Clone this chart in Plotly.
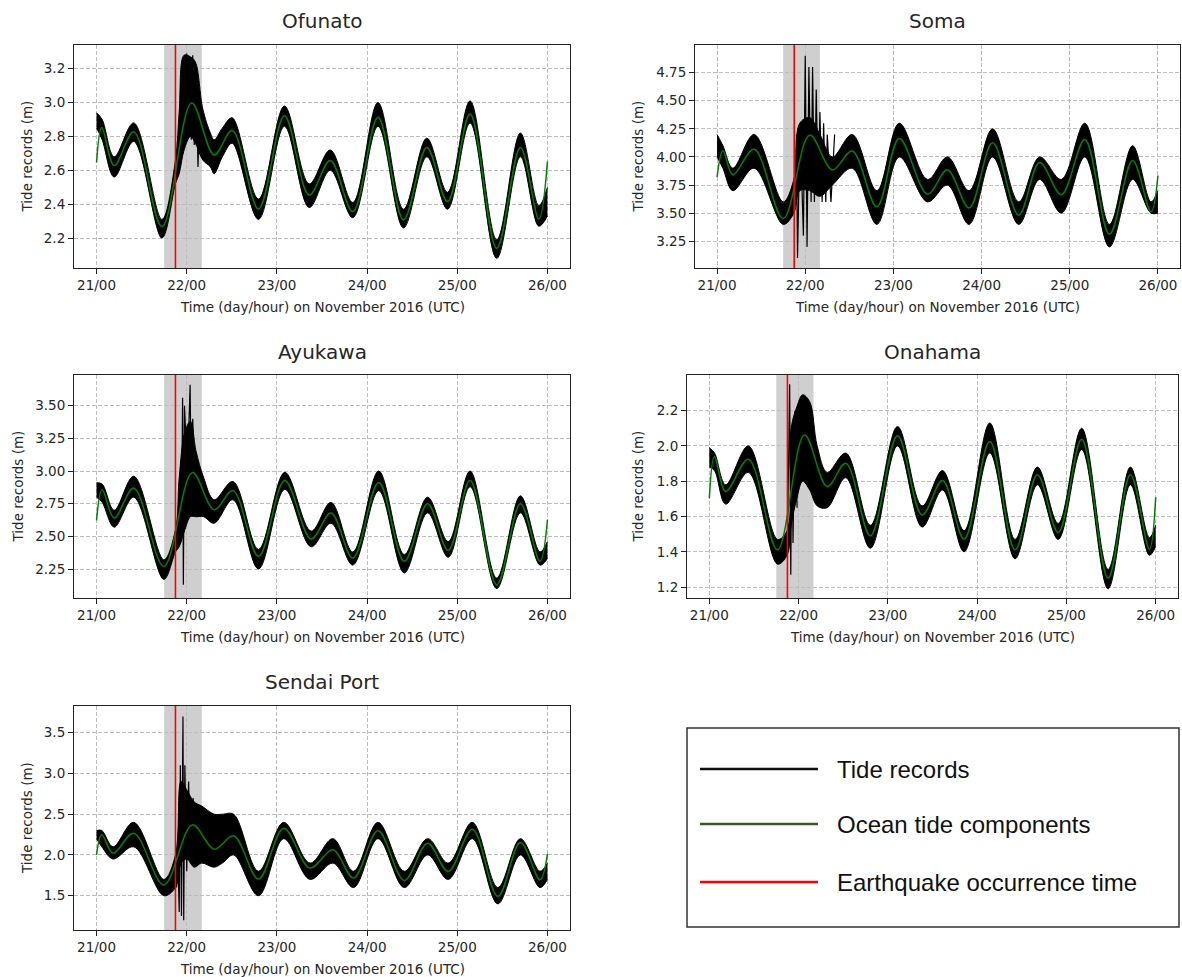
import plotly.graph_objects as go

# ---------------- data (hours since 21 Nov 2016 00:00 UTC) ----------------
stations = ["Ofunato", "Soma", "Ayukawa", "Onahama", "Sendai Port"]

quake_hour = 21.0
shade_start, shade_end = 18.0, 28.0

day_ticks = [0, 24, 48, 72, 96, 120]
day_labels = ["21/00", "22/00", "23/00", "24/00", "25/00", "26/00"]

# Ocean tide components (green) - extremes
ofunato_tide_t = [0, 1.4, 4.7, 9.9, 17.4, 25.3, 31.3, 36.1, 43.1, 50.0, 56.6, 62.2, 68.2, 74.9, 81.7, 87.9, 93.4, 99.4, 106.5, 112.8, 117.7, 120]
ofunato_tide_v = [2.646, 2.853, 2.628, 2.827, 2.267, 2.997, 2.691, 2.835, 2.372, 2.922, 2.454, 2.658, 2.356, 2.914, 2.307, 2.735, 2.415, 2.932, 2.139, 2.735, 2.312, 2.652]

soma_tide_t = [0, 1.6, 4.3, 10.1, 18.0, 25.2, 31.4, 36.8, 43.5, 49.6, 57.3, 62.7, 68.6, 75.0, 82.1, 87.8, 93.7, 100.1, 106.8, 113.1, 118.1, 120]
soma_tide_v = [3.82, 4.056, 3.841, 4.068, 3.453, 4.194, 3.885, 4.053, 3.556, 4.165, 3.67, 3.885, 3.547, 4.126, 3.482, 3.95, 3.665, 4.156, 3.312, 3.968, 3.512, 3.835]

ayukawa_tide_t = [0, 1.5, 4.7, 9.9, 17.9, 25.5, 31.3, 36.3, 43.1, 50.1, 57.1, 62.4, 68.2, 75.1, 81.9, 88.1, 93.6, 99.4, 106.5, 112.8, 118.0, 120]
ayukawa_tide_v = [2.622, 2.856, 2.64, 2.869, 2.27, 2.988, 2.703, 2.85, 2.347, 2.927, 2.479, 2.678, 2.334, 2.912, 2.309, 2.749, 2.393, 2.927, 2.13, 2.749, 2.309, 2.627]

onahama_tide_t = [0, 1.4, 4.4, 10.5, 18.3, 25.6, 31.7, 36.7, 43.3, 50.6, 57.2, 62.7, 68.5, 75.4, 82.2, 88.2, 93.8, 100.1, 107.2, 113.2, 118.3, 120]
onahama_tide_v = [1.704, 1.94, 1.742, 1.925, 1.411, 2.062, 1.77, 1.902, 1.491, 2.057, 1.609, 1.804, 1.472, 2.025, 1.411, 1.836, 1.509, 2.038, 1.251, 1.836, 1.415, 1.709]

sendai_tide_t = [0, 1.4, 4.4, 9.9, 17.9, 25.5, 31.3, 36.5, 43.1, 49.8, 56.8, 62.9, 68.4, 74.9, 81.9, 88.1, 93.6, 100.0, 106.8, 112.8, 118.0, 120]
sendai_tide_v = [2.002, 2.247, 2.022, 2.267, 1.635, 2.369, 2.071, 2.235, 1.704, 2.329, 1.839, 2.063, 1.716, 2.296, 1.688, 2.145, 1.798, 2.316, 1.492, 2.153, 1.696, 2.014]

# Tide records (black) - upper / lower envelope of the band
ofunato_rec_t = [0, 1.5, 4.7, 9.9, 17.4, 21.0, 22.0, 23.3, 25.0, 26.3, 28.3, 30.3, 31.3, 33.5, 36.1, 43.1, 50.0, 56.6, 62.2, 68.2, 74.9, 81.7, 87.9, 93.4, 99.4, 106.5, 112.8, 117.7, 120]
ofunato_rec_hi = [2.94, 2.90, 2.68, 2.88, 2.31, 2.66, 2.95, 3.28, 3.27, 3.24, 2.96, 2.82, 2.78, 2.85, 2.91, 2.43, 2.98, 2.52, 2.72, 2.41, 3.00, 2.37, 2.79, 2.47, 3.01, 2.19, 2.82, 2.39, 2.50]
ofunato_rec_lo = [2.85, 2.78, 2.56, 2.77, 2.20, 2.52, 2.58, 2.72, 2.80, 2.76, 2.66, 2.62, 2.58, 2.68, 2.76, 2.31, 2.86, 2.38, 2.60, 2.32, 2.86, 2.26, 2.68, 2.37, 2.88, 2.08, 2.68, 2.27, 2.33]
ofunato_spike_t = [21.2, 21.6, 22.0, 22.4, 22.8, 23.2, 23.6, 24.0, 24.4, 24.8, 25.2, 25.6, 26.0, 26.5, 27.0, 27.5]
ofunato_spike_v = [2.55, 2.80, 2.60, 3.05, 2.70, 3.26, 2.80, 3.29, 2.82, 3.22, 2.78, 3.28, 2.75, 3.15, 2.62, 3.02]

soma_rec_t = [0, 1.6, 4.3, 10.1, 18.0, 20.9, 22.5, 25.2, 28.0, 31.4, 36.8, 43.5, 49.6, 57.3, 62.7, 68.6, 75.0, 82.1, 87.8, 93.7, 100.1, 106.8, 113.1, 118.1, 120]
soma_rec_hi = [4.20, 4.10, 3.90, 4.20, 3.60, 3.80, 4.30, 4.35, 4.20, 4.00, 4.20, 3.70, 4.30, 3.80, 4.00, 3.70, 4.25, 3.60, 4.00, 3.80, 4.30, 3.40, 4.10, 3.60, 3.70]
soma_rec_lo = [4.00, 3.90, 3.70, 3.90, 3.40, 3.50, 3.70, 3.70, 3.65, 3.75, 3.90, 3.40, 4.00, 3.60, 3.75, 3.40, 4.00, 3.40, 3.80, 3.50, 4.00, 3.20, 3.80, 3.50, 3.50]
soma_spike_t = [21.3, 21.6, 21.9, 22.6, 23.5, 24.0, 24.5, 25.0, 25.6, 26.0, 26.5, 27.0, 27.5, 28.0, 28.6, 29.0, 29.6, 30.0, 31.0, 32.0]
soma_spike_v = [3.60, 4.20, 3.10, 4.30, 3.30, 4.90, 3.20, 4.80, 3.60, 4.80, 3.60, 4.60, 3.70, 4.40, 3.60, 4.30, 3.60, 4.20, 3.60, 4.20]

ayukawa_rec_t = [0, 1.5, 4.7, 9.9, 17.9, 21.0, 22.0, 23.5, 25.0, 26.5, 28.5, 31.3, 36.3, 43.1, 50.1, 57.1, 62.4, 68.2, 75.1, 81.9, 88.1, 93.6, 99.4, 106.5, 112.8, 118.0, 120]
ayukawa_rec_hi = [2.91, 2.90, 2.70, 2.96, 2.32, 2.55, 2.95, 3.30, 3.38, 3.15, 2.95, 2.78, 2.92, 2.40, 2.99, 2.54, 2.76, 2.38, 3.00, 2.36, 2.80, 2.46, 3.00, 2.18, 2.81, 2.38, 2.46]
ayukawa_rec_lo = [2.80, 2.76, 2.57, 2.80, 2.17, 2.38, 2.42, 2.55, 2.65, 2.65, 2.65, 2.60, 2.78, 2.25, 2.86, 2.42, 2.60, 2.28, 2.85, 2.22, 2.68, 2.34, 2.88, 2.10, 2.68, 2.28, 2.33]
ayukawa_spike_t = [21.5, 22.0, 22.6, 22.9, 23.1, 23.4, 24.2, 24.9, 25.2, 25.6, 26.2]
ayukawa_spike_v = [2.40, 2.80, 2.60, 3.56, 2.13, 3.50, 3.00, 3.66, 2.90, 3.40, 2.80]

onahama_rec_t = [0, 1.4, 4.4, 10.5, 18.3, 20.9, 22.0, 23.5, 25.1, 27.0, 29.0, 31.7, 36.7, 43.3, 50.6, 57.2, 62.7, 68.5, 75.4, 82.2, 88.2, 93.8, 100.1, 107.2, 113.2, 118.3, 120]
onahama_rec_hi = [1.99, 1.96, 1.78, 2.00, 1.47, 1.52, 2.10, 2.22, 2.29, 2.25, 2.00, 1.85, 1.96, 1.55, 2.11, 1.66, 1.86, 1.52, 2.13, 1.47, 1.88, 1.56, 2.10, 1.30, 1.88, 1.48, 1.55]
onahama_rec_lo = [1.88, 1.86, 1.67, 1.85, 1.33, 1.38, 1.55, 1.70, 1.80, 1.75, 1.66, 1.65, 1.82, 1.42, 2.00, 1.54, 1.75, 1.40, 1.96, 1.36, 1.78, 1.47, 1.98, 1.19, 1.78, 1.38, 1.43]
onahama_spike_t = [21.0, 21.6, 21.9, 22.2, 22.5, 23.0, 23.6]
onahama_spike_v = [1.45, 2.35, 1.27, 2.10, 1.45, 2.20, 1.65]

sendai_rec_t = [0, 1.4, 4.4, 9.9, 17.9, 21.0, 22.5, 24.0, 26.0, 28.0, 31.3, 33.5, 36.5, 43.1, 49.8, 56.8, 62.9, 68.4, 74.9, 81.9, 88.1, 93.6, 100.0, 106.8, 112.8, 118.0, 120]
sendai_rec_hi = [2.30, 2.30, 2.10, 2.40, 1.70, 2.00, 2.90, 2.80, 2.65, 2.60, 2.50, 2.50, 2.50, 1.80, 2.40, 1.90, 2.20, 1.80, 2.40, 1.80, 2.20, 1.90, 2.40, 1.60, 2.20, 1.80, 1.90]
sendai_rec_lo = [2.20, 2.10, 1.95, 2.10, 1.50, 1.60, 1.90, 1.95, 1.85, 1.90, 1.85, 1.90, 2.00, 1.50, 2.20, 1.70, 1.90, 1.60, 2.20, 1.60, 2.00, 1.70, 2.20, 1.40, 2.00, 1.60, 1.70]
sendai_spike_t = [21.3, 21.6, 22.0, 22.3, 22.6, 23.0, 23.2, 23.5, 24.0, 24.5, 25.0, 25.7, 26.3, 27.0, 27.5, 28.0]
sendai_spike_v = [1.60, 2.00, 1.30, 3.10, 1.25, 3.70, 1.20, 3.10, 1.80, 2.90, 1.90, 2.70, 1.90, 2.60, 2.00, 2.40]

tide_t = [ofunato_tide_t, soma_tide_t, ayukawa_tide_t, onahama_tide_t, sendai_tide_t]
tide_v = [ofunato_tide_v, soma_tide_v, ayukawa_tide_v, onahama_tide_v, sendai_tide_v]
rec_t = [ofunato_rec_t, soma_rec_t, ayukawa_rec_t, onahama_rec_t, sendai_rec_t]
rec_hi = [ofunato_rec_hi, soma_rec_hi, ayukawa_rec_hi, onahama_rec_hi, sendai_rec_hi]
rec_lo = [ofunato_rec_lo, soma_rec_lo, ayukawa_rec_lo, onahama_rec_lo, sendai_rec_lo]
spike_t = [ofunato_spike_t, soma_spike_t, ayukawa_spike_t, onahama_spike_t, sendai_spike_t]
spike_v = [ofunato_spike_v, soma_spike_v, ayukawa_spike_v, onahama_spike_v, sendai_spike_v]

ytick_vals = [
    [2.2, 2.4, 2.6, 2.8, 3.0, 3.2],
    [3.25, 3.5, 3.75, 4.0, 4.25, 4.5, 4.75],
    [2.25, 2.5, 2.75, 3.0, 3.25, 3.5],
    [1.2, 1.4, 1.6, 1.8, 2.0, 2.2],
    [1.5, 2.0, 2.5, 3.0, 3.5],
]
ytick_fmt = [".1f", ".2f", ".2f", ".1f", ".1f"]
y_ranges = [[2.023, 3.34], [3.012, 4.996], [2.028, 3.735], [1.138, 2.402], [1.079, 3.828]]

legend_labels = ["Tide records", "Ocean tide components", "Earthquake occurrence time"]

# ---------------- layout geometry (pixels) ----------------
W, H = 1182, 977
frames = [  # x0, x1, y0(top), y1(bottom)
    (74, 570, 45, 268),
    (695, 1180, 45, 268),
    (74, 570, 375, 598),
    (687, 1178, 375, 598),
    (74, 570, 706, 930),
]
title_y = [21, 21, 352, 352, 682]
ytitle_x = [27, 638, 17, 637, 27]


def fx(p):
    return p / W


def fy(p):
    return 1 - p / H


FONT = "DejaVu Sans"
TXT = "#262626"

fig = go.Figure()
annotations = []
shapes = []

for i, name in enumerate(stations):
    n = "" if i == 0 else str(i + 1)
    xa, ya = "x" + n, "y" + n
    x0, x1, y0, y1 = frames[i]

    # tide record band
    fig.add_trace(go.Scatter(x=rec_t[i], y=rec_lo[i], mode="lines", xaxis=xa, yaxis=ya,
                             line=dict(color="black", width=1, shape="spline", smoothing=1.0),
                             showlegend=False, hoverinfo="skip"))
    fig.add_trace(go.Scatter(x=rec_t[i], y=rec_hi[i], mode="lines", xaxis=xa, yaxis=ya,
                             fill="tonexty", fillcolor="black",
                             line=dict(color="black", width=1, shape="spline", smoothing=1.0),
                             showlegend=False, hoverinfo="skip"))
    fig.add_trace(go.Scatter(x=spike_t[i], y=spike_v[i], mode="lines", xaxis=xa, yaxis=ya,
                             line=dict(color="black", width=1.2),
                             showlegend=False, hoverinfo="skip"))
    # ocean tide component
    fig.add_trace(go.Scatter(x=tide_t[i], y=tide_v[i], mode="lines", xaxis=xa, yaxis=ya,
                             line=dict(color="#008000", width=1.5, shape="spline", smoothing=1.0),
                             showlegend=False, hoverinfo="skip"))

    axis_common = dict(showline=True, mirror=True, linecolor="#222222", linewidth=1.1,
                       ticks="outside", ticklen=5, tickwidth=1.1, tickcolor="#222222",
                       showgrid=True, gridcolor="#bdbdbd", griddash="4px,2px", gridwidth=1,
                       zeroline=False, tickfont=dict(family=FONT, size=13.5, color=TXT))
    fig.layout["xaxis" + n] = dict(axis_common, domain=[fx(x0), fx(x1)], anchor=ya,
                                   range=[-6, 126], tickvals=day_ticks, ticktext=day_labels)
    fig.layout["yaxis" + n] = dict(axis_common, domain=[fy(y1), fy(y0)], anchor=xa,
                                   range=y_ranges[i], tickvals=ytick_vals[i], tickformat=ytick_fmt[i])

    # shaded window and earthquake line
    shapes.append(dict(type="rect", xref=xa, yref=ya + " domain", x0=shade_start, x1=shade_end,
                       y0=0, y1=1, fillcolor="rgba(128,128,128,0.38)", line=dict(width=0), layer="below"))
    shapes.append(dict(type="line", xref=xa, yref=ya + " domain", x0=quake_hour, x1=quake_hour,
                       y0=0, y1=1, line=dict(color="#ff0000", width=1.6), layer="above"))

    # titles
    annotations.append(dict(text=name, x=fx((x0 + x1) / 2), y=fy(title_y[i]), xref="paper", yref="paper",
                            showarrow=False, xanchor="center", yanchor="middle",
                            font=dict(family=FONT, size=20, color=TXT)))
    annotations.append(dict(text="Time (day/hour) on November 2016 (UTC)", x=fx((x0 + x1) / 2),
                            y=fy(y1 + 39), xref="paper", yref="paper", showarrow=False,
                            xanchor="center", yanchor="middle", font=dict(family=FONT, size=13.5, color=TXT)))
    annotations.append(dict(text="Tide records (m)", x=fx(ytitle_x[i]), y=fy((y0 + y1) / 2),
                            xref="paper", yref="paper", showarrow=False, textangle=-90,
                            xanchor="center", yanchor="middle", font=dict(family=FONT, size=13.5, color=TXT)))

# ---------------- legend box ----------------
box = (687, 1179, 728, 927)
shapes.append(dict(type="rect", xref="paper", yref="paper", x0=fx(box[0]), x1=fx(box[1]),
                   y0=fy(box[3]), y1=fy(box[2]), line=dict(color="#333333", width=1.5),
                   fillcolor="white"))
legend_colors = ["#111111", "#385a2a", "#ff0000"]
legend_y = [769, 824, 882]
for lab, col, ly in zip(legend_labels, legend_colors, legend_y):
    shapes.append(dict(type="line", xref="paper", yref="paper", x0=fx(700), x1=fx(818),
                       y0=fy(ly), y1=fy(ly), line=dict(color=col, width=2.5)))
    annotations.append(dict(text=lab, x=fx(835), y=fy(ly), xref="paper", yref="paper",
                            showarrow=False, xanchor="left", yanchor="middle",
                            font=dict(family="Liberation Sans", size=24, color="#111111")))

fig.update_layout(width=W, height=H, autosize=False, margin=dict(l=0, r=0, t=0, b=0),
                  paper_bgcolor="white", plot_bgcolor="white", showlegend=False,
                  shapes=shapes, annotations=annotations)

fig.write_html("out.html", config={"displayModeBar": False},
               post_script="document.body.style.margin='0';document.body.style.overflow='hidden';")
